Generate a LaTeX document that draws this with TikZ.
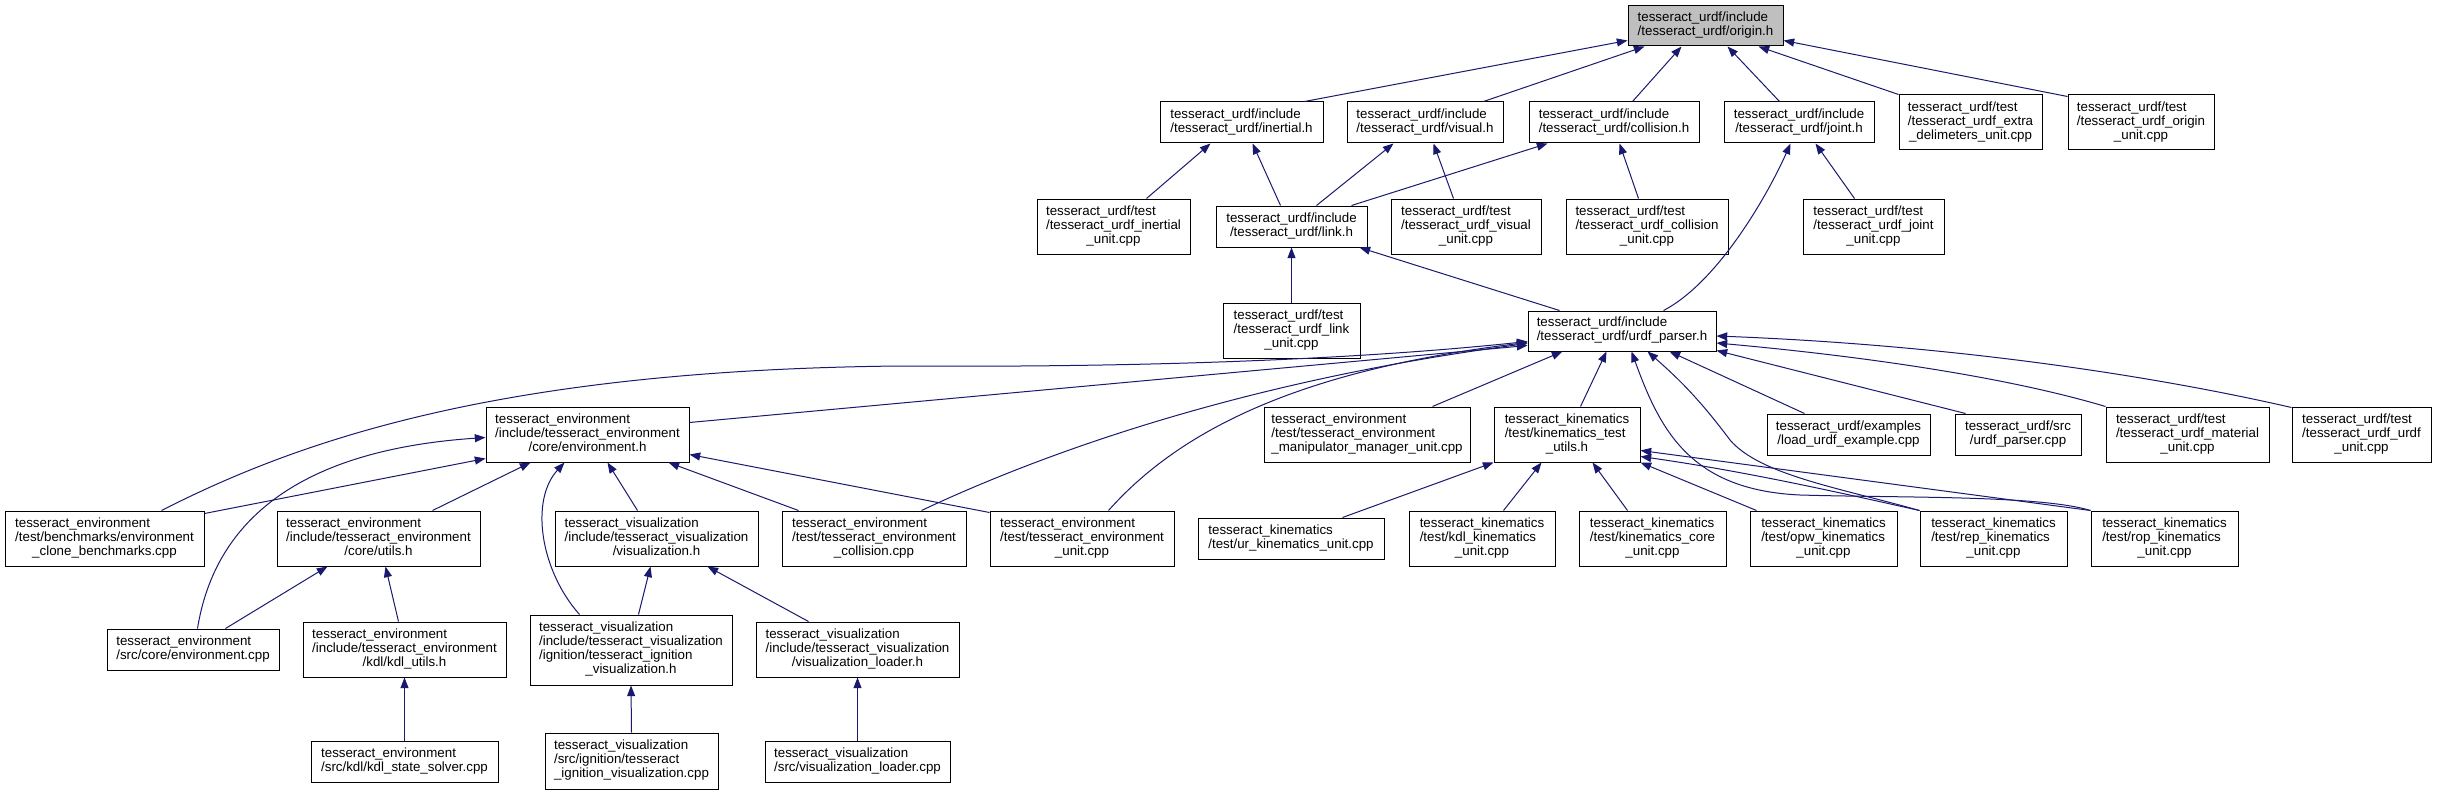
\documentclass[tikz,border=0pt]{standalone}
\usepackage{fontspec}
\setmainfont{Liberation Sans}
\usetikzlibrary{arrows.meta,calc}
\definecolor{edgec}{HTML}{191970}
\definecolor{rootfill}{HTML}{BFBFBF}
\newcommand\lbl[2]{\begin{tabular}{@{}l@{}}#1\\\multicolumn{1}{@{}c@{}}{#2}\end{tabular}}
\begin{document}
\begin{tikzpicture}[x=0.75pt,y=-0.75pt,
 nd/.style={draw=black,line width=0.75pt,fill=white,inner sep=0pt,font=\fontsize{10}{10.5}\selectfont},
 bx/.style n args={2}{minimum width=#1*0.75pt,minimum height=#2*0.75pt},
 ed/.style={draw=edgec,line width=0.75pt,-{Triangle[length=8pt,width=6pt]}}]
\useasboundingbox[fill=white] (0,0) rectangle (2437,795);
% row 0
\node[nd,bx={155}{40},fill=rootfill] (root) at (1705.5,26) {\lbl{tesseract\_urdf/include}{/tesseract\_urdf/origin.h}};
% row 1
\node[nd,bx={163}{41}] (inertial) at (1241.5,122.5) {\lbl{tesseract\_urdf/include}{/tesseract\_urdf/inertial.h}};
\node[nd,bx={156}{41}] (visual) at (1425,122.5) {\lbl{tesseract\_urdf/include}{/tesseract\_urdf/visual.h}};
\node[nd,bx={170}{41}] (collision) at (1614,122.5) {\lbl{tesseract\_urdf/include}{/tesseract\_urdf/collision.h}};
\node[nd,bx={150}{41}] (joint) at (1799,122.5) {\lbl{tesseract\_urdf/include}{/tesseract\_urdf/joint.h}};
\node[nd,bx={143}{55}] (extra) at (1970.5,122.5) {\lbl{tesseract\_urdf/test\\/tesseract\_urdf\_extra}{\_delimeters\_unit.cpp}};
\node[nd,bx={146}{55}] (originunit) at (2141,122.5) {\lbl{tesseract\_urdf/test\\/tesseract\_urdf\_origin}{\_unit.cpp}};
% row 2
\node[nd,bx={153}{55}] (inertialunit) at (1113.5,226.5) {\lbl{tesseract\_urdf/test\\/tesseract\_urdf\_inertial}{\_unit.cpp}};
\node[nd,bx={151}{41}] (link) at (1291.5,226.5) {\lbl{tesseract\_urdf/include}{/tesseract\_urdf/link.h}};
\node[nd,bx={150}{55}] (visualunit) at (1466,226.5) {\lbl{tesseract\_urdf/test\\/tesseract\_urdf\_visual}{\_unit.cpp}};
\node[nd,bx={162}{55}] (collisionunit) at (1647,226.5) {\lbl{tesseract\_urdf/test\\/tesseract\_urdf\_collision}{\_unit.cpp}};
\node[nd,bx={141}{55}] (jointunit) at (1873.5,226.5) {\lbl{tesseract\_urdf/test\\/tesseract\_urdf\_joint}{\_unit.cpp}};
% row 3
\node[nd,bx={137}{55}] (linkunit) at (1291.5,330.5) {\lbl{tesseract\_urdf/test\\/tesseract\_urdf\_link}{\_unit.cpp}};
\node[nd,bx={188}{40}] (parser) at (1622,331) {\lbl{tesseract\_urdf/include}{/tesseract\_urdf/urdf\_parser.h}};
% row 4
\node[nd,bx={203}{55}] (envh) at (587.5,434.5) {\lbl{tesseract\_environment\\/include/tesseract\_environment}{/core/environment.h}};
\node[nd,bx={206}{55}] (manip) at (1367,434.5) {\lbl{tesseract\_environment\\/test/tesseract\_environment}{\_manipulator\_manager\_unit.cpp}};
\node[nd,bx={146}{55}] (ktu) at (1567,434.5) {\lbl{tesseract\_kinematics\\/test/kinematics\_test}{\_utils.h}};
\node[nd,bx={163}{41}] (loadex) at (1848.5,434.5) {\lbl{tesseract\_urdf/examples}{/load\_urdf\_example.cpp}};
\node[nd,bx={126}{41}] (parsercpp) at (2018,434.5) {\lbl{tesseract\_urdf/src}{/urdf\_parser.cpp}};
\node[nd,bx={163}{55}] (material) at (2187.5,434.5) {\lbl{tesseract\_urdf/test\\/tesseract\_urdf\_material}{\_unit.cpp}};
\node[nd,bx={139}{55}] (urdfunit) at (2361.5,434.5) {\lbl{tesseract\_urdf/test\\/tesseract\_urdf\_urdf}{\_unit.cpp}};
% row 5
\node[nd,bx={199}{55}] (clone) at (104.5,538.5) {\lbl{tesseract\_environment\\/test/benchmarks/environment}{\_clone\_benchmarks.cpp}};
\node[nd,bx={203}{55}] (utils) at (378.5,538.5) {\lbl{tesseract\_environment\\/include/tesseract\_environment}{/core/utils.h}};
\node[nd,bx={203}{55}] (vish) at (656.5,538.5) {\lbl{tesseract\_visualization\\/include/tesseract\_visualization}{/visualization.h}};
\node[nd,bx={184}{55}] (envcoll) at (874,538.5) {\lbl{tesseract\_environment\\/test/tesseract\_environment}{\_collision.cpp}};
\node[nd,bx={184}{55}] (envunit) at (1082,538.5) {\lbl{tesseract\_environment\\/test/tesseract\_environment}{\_unit.cpp}};
\node[nd,bx={186}{41}] (ur) at (1291,538.5) {\lbl{tesseract\_kinematics}{/test/ur\_kinematics\_unit.cpp}};
\node[nd,bx={146}{55}] (kdl) at (1482,538.5) {\lbl{tesseract\_kinematics\\/test/kdl\_kinematics}{\_unit.cpp}};
\node[nd,bx={147}{55}] (core) at (1652.5,538.5) {\lbl{tesseract\_kinematics\\/test/kinematics\_core}{\_unit.cpp}};
\node[nd,bx={147}{55}] (opw) at (1823.5,538.5) {\lbl{tesseract\_kinematics\\/test/opw\_kinematics}{\_unit.cpp}};
\node[nd,bx={147}{55}] (rep) at (1993.5,538.5) {\lbl{tesseract\_kinematics\\/test/rep\_kinematics}{\_unit.cpp}};
\node[nd,bx={147}{55}] (rop) at (2164.5,538.5) {\lbl{tesseract\_kinematics\\/test/rop\_kinematics}{\_unit.cpp}};
% row 6
\node[nd,bx={172}{41}] (envcpp) at (193,649.5) {\lbl{tesseract\_environment}{/src/core/environment.cpp}};
\node[nd,bx={203}{55}] (kdlutils) at (404.5,649.5) {\lbl{tesseract\_environment\\/include/tesseract\_environment}{/kdl/kdl\_utils.h}};
\node[nd,bx={202}{70}] (ignh) at (631,650) {\lbl{tesseract\_visualization\\/include/tesseract\_visualization\\/ignition/tesseract\_ignition}{\_visualization.h}};
\node[nd,bx={203}{55}] (loaderh) at (857.5,649.5) {\lbl{tesseract\_visualization\\/include/tesseract\_visualization}{/visualization\_loader.h}};
% row 7
\node[nd,bx={187}{41}] (kdlsolver) at (404.5,761.5) {\lbl{tesseract\_environment}{/src/kdl/kdl\_state\_solver.cpp}};
\node[nd,bx={173}{56}] (igncpp) at (631.5,761) {\lbl{tesseract\_visualization\\/src/ignition/tesseract}{\_ignition\_visualization.cpp}};
\node[nd,bx={185}{41}] (loadercpp) at (857.5,761.5) {\lbl{tesseract\_visualization}{/src/visualization\_loader.cpp}};
% edges to root
\draw[ed] ($(inertial.north west)+(145,0)$) -- ($(root.south west)+(0,-6)$);
\draw[ed] ($(visual.north west)+(137,0)$) -- ($(root.south west)+(17,0)$);
\draw[ed] ($(collision.north west)+(104,0)$) -- ($(root.south west)+(54,0)$);
\draw[ed] ($(joint.north west)+(56,0)$) -- ($(root.south west)+(100,0)$);
\draw[ed] (extra.north west) -- ($(root.south west)+(131,0)$);
\draw[ed] ($(originunit.north west)+(0,2)$) -- ($(root.south east)+(0,-6)$);
% to inertial, visual, collision, joint
\draw[ed] ($(inertialunit.north west)+(110,0)$) -- ($(inertial.south west)+(51,0)$);
\draw[ed] ($(link.north west)+(65,0)$) -- ($(inertial.south west)+(93,0)$);
\draw[ed] ($(link.north west)+(101,0)$) -- ($(visual.south west)+(47,0)$);
\draw[ed] ($(visualunit.north west)+(63,0)$) -- ($(visual.south west)+(87,0)$);
\draw[ed] ($(link.north west)+(136,0)$) -- ($(collision.south west)+(19,0)$);
\draw[ed] ($(collisionunit.north west)+(73,0)$) -- ($(collision.south west)+(91,0)$);
\draw[ed] ($(jointunit.north west)+(52,0)$) -- ($(joint.south west)+(92,0)$);
\draw[ed] ($(parser.north west)+(136,0)$) .. controls (1720,281) and (1770,190) .. ($(joint.south west)+(67,0)$);
% to link
\draw[ed] (linkunit.north) -- (link.south);
\draw[ed] ($(parser.north west)+(32,0)$) -- ($(link.south east)+(-8,0)$);
% to urdf_parser
\draw[ed] ($(envh.north east)+(0,16)$) -- ($(parser.south west)+(0,-6)$);
\draw[ed] ($(clone.north west)+(157,0)$) .. controls (300,440) and (500,370) .. (900,366) .. controls (1200,368) and (1400,355) .. ($(parser.south west)+(0,-10)$);
\draw[ed] ($(envcoll.north west)+(140,0)$) .. controls (1050,450) and (1250,380) .. ($(parser.south west)+(0,-8)$);
\draw[ed] ($(envunit.north west)+(119,0)$) .. controls (1180,430) and (1300,370) .. ($(parser.south west)+(0,-9)$);
\draw[ed] ($(manip.north west)+(169,0)$) -- ($(parser.south west)+(35,0)$);
\draw[ed] ($(ktu.north west)+(87,0)$) -- ($(parser.south west)+(79,0)$);
\draw[ed] (rop.north west) .. controls (2040,495) and (1900,498) .. (1800,495) .. controls (1690,490) and (1660,430) .. ($(parser.south west)+(104,0)$);
\draw[ed] (rep.north west) .. controls (1840,488) and (1760,475) .. (1730,440) .. controls (1700,400) and (1680,380) .. ($(parser.south west)+(120,0)$);
\draw[ed] ($(loadex.north west)+(38,0)$) -- ($(parser.south west)+(142,0)$);
\draw[ed] ($(parsercpp.north west)+(11,0)$) -- ($(parser.south east)+(0,-1)$);
\draw[ed] (material.north west) .. controls (2000,375) and (1850,355) .. ($(parser.east)+(0,12)$);
\draw[ed] ($(urdfunit.north west)+(0,1)$) .. controls (2150,375) and (1950,345) .. ($(parser.east)+(0,5)$);
% to kinematics_test_utils
\draw[ed] ($(ur.north west)+(145,0)$) -- (ktu.south west);
\draw[ed] ($(kdl.north west)+(95,0)$) -- ($(ktu.south west)+(48,0)$);
\draw[ed] ($(core.north west)+(49,0)$) -- ($(ktu.south west)+(99,0)$);
\draw[ed] ($(opw.north west)+(7,0)$) -- (ktu.south east);
\draw[ed] (rep.north west) .. controls (1850,495) and (1750,472) .. ($(ktu.south east)+(0,-6)$);
\draw[ed] (rop.north west) -- ($(ktu.south east)+(0,-12)$);
% to environment.h
\draw[ed] ($(clone.north east)+(0,3)$) -- ($(envh.south west)+(0,-4)$);
\draw[ed] ($(envcpp.north west)+(91,0)$) .. controls (215,520) and (300,450) .. ($(envh.west)+(0,3)$);
\draw[ed] ($(utils.north west)+(156,0)$) -- ($(envh.south west)+(45,0)$);
\draw[ed] ($(ignh.north west)+(50,0)$) .. controls (540,570) and (530,500) .. ($(envh.south west)+(79,0)$);
\draw[ed] ($(vish.north west)+(83,0)$) -- ($(envh.south west)+(122,0)$);
\draw[ed] ($(envcoll.north west)+(17,0)$) -- ($(envh.south west)+(183,0)$);
\draw[ed] ($(envunit.north west)+(0,2)$) -- ($(envh.south east)+(0,-8)$);
% lower
\draw[ed] ($(envcpp.north west)+(119,0)$) -- ($(utils.south west)+(51,0)$);
\draw[ed] ($(kdlutils.north west)+(96,0)$) -- ($(utils.south west)+(109,0)$);
\draw[ed] (kdlsolver.north) -- (kdlutils.south);
\draw[ed] ($(ignh.north west)+(109,0)$) -- ($(vish.south west)+(96,0)$);
\draw[ed] ($(loaderh.north west)+(53,0)$) -- ($(vish.south west)+(153,0)$);
\draw[ed] (igncpp.north) -- (ignh.south);
\draw[ed] (loadercpp.north) -- (loaderh.south);
\end{tikzpicture}
\end{document}
